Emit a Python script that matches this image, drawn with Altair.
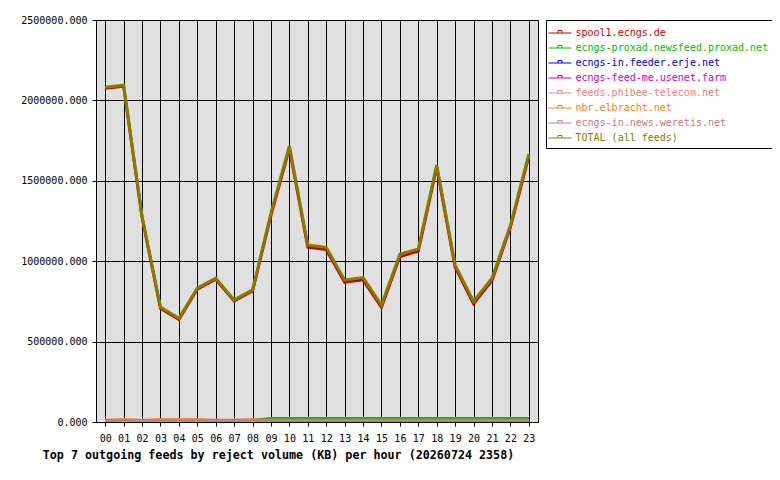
import altair as alt
import pandas as pd

hours = ["00", "01", "02", "03", "04", "05", "06", "07", "08", "09", "10", "11",
         "12", "13", "14", "15", "16", "17", "18", "19", "20", "21", "22", "23"]

series_names = [
    "spool1.ecngs.de",
    "ecngs-proxad.newsfeed.proxad.net",
    "ecngs-in.feeder.erje.net",
    "ecngs-feed-me.usenet.farm",
    "feeds.phibee-telecom.net",
    "nbr.elbracht.net",
    "ecngs-in.news.weretis.net",
    "TOTAL (all feeds)",
]
series_colors = ["#cc0000", "#00c000", "#0000cc", "#cc00cc",
                 "#f08080", "#ff8000", "#c08080", "#808000"]

spool1 = [2066000, 2078000, 1264000, 698000, 629000, 816000, 879000, 744000,
          805000, 1276000, 1693000, 1078000, 1063000, 860000, 875000, 705000,
          1020000, 1053000, 1575000, 954000, 726000, 871000, 1201000, 1643000]
proxad = [0, 0, 0, 0, 0, 0, 0, 0, 0, 12000, 12000, 12000, 12000, 12000, 12000,
          12000, 12000, 12000, 12000, 12000, 12000, 12000, 12000, 12000]
erje = [0] * 24
feedme = [0] * 24
phibee = [0] * 24
elbracht = [0, 4000, 0, 4000, 4000, 4000, 0, 0, 4000, 0, 0, 0,
            0, 0, 0, 0, 0, 0, 0, 0, 0, 0, 0, 0]
weretis = [2000] * 24
total = [2073000, 2085000, 1270000, 705000, 636000, 823000, 885000, 750000,
         812000, 1290000, 1707000, 1092000, 1077000, 874000, 889000, 719000,
         1034000, 1067000, 1589000, 968000, 740000, 885000, 1215000, 1657000]

y_ticks = [0, 500000, 1000000, 1500000, 2000000, 2500000]
title_text = "Top 7 outgoing feeds by reject volume (KB) per hour (20260724 2358)"

all_series = [spool1, proxad, erje, feedme, phibee, elbracht, weretis, total]
rows = []
for name, vals in zip(series_names, all_series):
    for h, v in zip(hours, vals):
        rows.append({"hour": h, "value": v, "series": name})
df = pd.DataFrame(rows)

FONT = "DejaVu Sans Mono"

chart = alt.Chart(df).mark_line(strokeWidth=3, yOffset=-1.5).encode(
    x=alt.X("hour:O", sort=hours,
            scale=alt.Scale(type="point", padding=0.5),
            axis=alt.Axis(labelAngle=0, grid=True, gridColor="black", gridOpacity=1,
                          domain=False, ticks=True, tickColor="black", tickSize=4,
                          labelPadding=7, labelFont=FONT, labelFontSize=10,
                          labelColor="black",
                          title=title_text, titleFont=FONT, titleFontSize=11.7,
                          titleFontWeight="bold", titleColor="black",
                          titleAnchor="start", titleAlign="center",
                          titleX=182, titleY=36, titleBaseline="alphabetic")),
    y=alt.Y("value:Q",
            scale=alt.Scale(domain=[0, 2500000], nice=False),
            axis=alt.Axis(values=y_ticks, format=".3f", grid=True, gridColor="black",
                          gridOpacity=1, domain=False, tickColor="black", tickSize=4,
                          labelPadding=5, labelFont=FONT, labelFontSize=10,
                          labelColor="black", title=None)),
    color=alt.Color("series:N", sort=series_names,
                    scale=alt.Scale(domain=series_names, range=series_colors),
                    legend=alt.Legend(
                        title=None, orient="right", offset=8,
                        strokeColor="black", fillColor="white", padding=5,
                        symbolType="M-1.53,0H1.53M-0.27,0V-0.33H0.27V0",
                        symbolSize=225, symbolStrokeWidth=1,
                        symbolFillColor="transparent", symbolOffset=1,
                        labelFont=FONT, labelFontSize=10, labelOffset=7.5,
                        labelColor=alt.ExprRef(expr="scale('color', datum.value)"),
                        rowPadding=2, labelLimit=400)),
).properties(
    width=442, height=402,
    autosize=alt.AutoSizeParams(type="none"),
    padding={"left": 88, "top": 12, "right": 234, "bottom": 50},
    background="white",
).configure_view(fill="#e0e0e0", stroke="black", strokeWidth=1)

chart.save("out.html", embed_options={"renderer": "svg", "actions": False})
